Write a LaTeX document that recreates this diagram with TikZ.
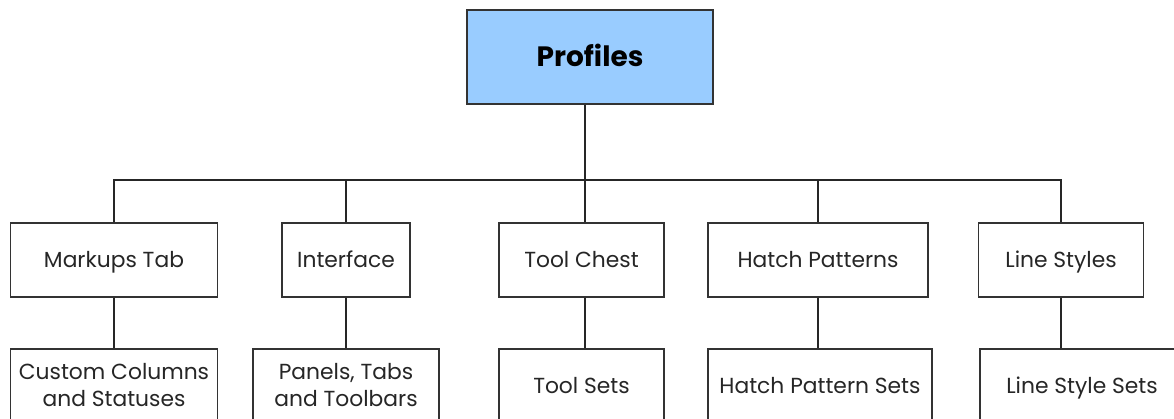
\documentclass[tikz,border=0pt]{standalone}
\usepackage{fontspec}
\setmainfont{Poppins}
\definecolor{boxline}{HTML}{333333}
\definecolor{topfill}{HTML}{99CCFF}
\begin{document}
\begin{tikzpicture}[x=1pt,y=-1pt,
  box/.style={draw=boxline,line width=1.4pt,fill=white,inner sep=0pt,align=center,
    font=\fontsize{21.8}{27}\selectfont,text=black!85,text height=16pt,text depth=0pt},
  twoline/.style={text height=43pt,text depth=0pt},
  conn/.style={draw=black!85,line width=1.4pt}]
\useasboundingbox (0,0) rectangle (1174,419);
\coordinate (busy) at (0,180);
% top
\node[box,fill=topfill,minimum width=246pt,minimum height=94pt,font=\fontsize{28}{30}\selectfont\bfseries,text=black,text height=20pt,text depth=0pt] (p) at (590,57) {Profiles};
% row 1
\node[box,minimum width=207pt,minimum height=74pt] (mt) at (114,260) {Markups Tab};
\node[box,minimum width=128pt,minimum height=74pt] (if) at (346,260) {Interface};
\node[box,minimum width=165pt,minimum height=74pt] (tc) at (581.5,260) {Tool Chest};
\node[box,minimum width=220pt,minimum height=74pt] (hp) at (818,260) {Hatch Patterns};
\node[box,minimum width=165pt,minimum height=74pt] (ls) at (1061,260) {Line Styles};
% row 2
\node[box,twoline,minimum width=207pt,minimum height=72pt] (cc) at (114,385) {Custom Columns\\and Statuses};
\node[box,twoline,minimum width=186pt,minimum height=72pt] (pt) at (346,385) {Panels, Tabs\\and Toolbars};
\node[box,minimum width=165pt,minimum height=72pt] (ts) at (581.5,385) {Tool Sets};
\node[box,minimum width=224pt,minimum height=72pt] (hs) at (820,385) {Hatch Pattern Sets};
\node[box,minimum width=204pt,minimum height=72pt] (ss) at (1082,385) {Line Style Sets};
% connectors
\coordinate (stem) at (585,0);
\draw[conn] (p.south -| stem) -- (stem |- busy);
\draw[conn] (mt.north) -- (mt.north |- busy) -- (ls.north |- busy) -- (ls.north);
\draw[conn] (if.north) -- (if.north |- busy);
\draw[conn] (tc.north -| stem) -- (stem |- busy);
\draw[conn] (hp.north) -- (hp.north |- busy);
\draw[conn] (mt.south) -- (mt.south |- cc.north);
\draw[conn] (if.south) -- (if.south |- pt.north);
\draw[conn] (tc.south -| stem) -- (stem |- ts.north);
\draw[conn] (hp.south) -- (hp.south |- hs.north);
\draw[conn] (ls.south) -- (ls.south |- ss.north);
\end{tikzpicture}
\end{document}
